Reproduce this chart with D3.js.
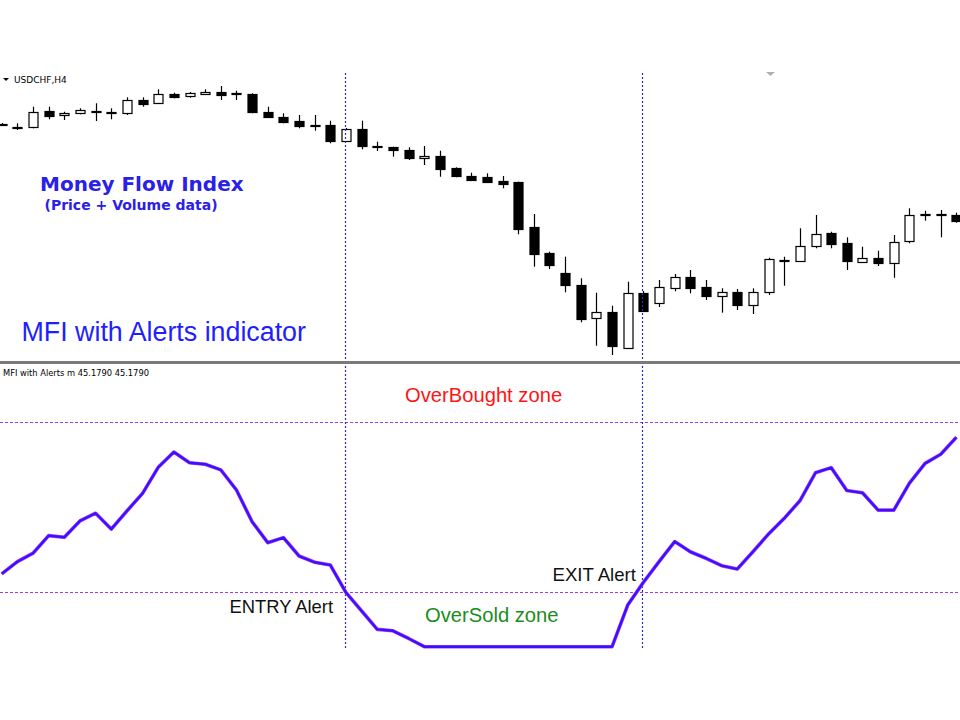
<!DOCTYPE html>
<html>
<head>
<meta charset="utf-8">
<script src="https://cdnjs.cloudflare.com/ajax/libs/d3/7.8.5/d3.min.js"></script>
<style>
  body { margin: 0; background: #fff; }
  svg { display: block; }
</style>
</head>
<body>
<svg></svg>
<script>
// USDCHF H4 candles
let opens  = [0.98460,0.98435,0.98433,0.98593,0.98550,0.98567,0.98583,0.98573,0.98567,0.98700,
              0.98673,0.98763,0.98733,0.98760,0.98783,0.98765,0.98757,0.98577,0.98527,0.98490,
              0.98450,0.98445,0.98290,0.98407,0.98237,0.98233,0.98200,0.98123,0.98143,0.98017,
              0.97940,0.97933,0.97893,0.97883,0.97427,0.97167,0.96967,0.96850,0.96517,0.96577,
              0.96227,0.96773,0.96670,0.96827,0.96933,0.96827,0.96740,0.96777,0.96643,0.96777,
              0.97100,0.97093,0.97240,0.97367,0.97267,0.97083,0.97123,0.97073,0.97290,0.97555,
              0.97555,0.97550]
let highs  = [0.98470,0.98467,0.98633,0.98633,0.98583,0.98617,0.98667,0.98617,0.98727,0.98727,
              0.98807,0.98773,0.98780,0.98807,0.98840,0.98793,0.98767,0.98633,0.98567,0.98550,
              0.98550,0.98493,0.98420,0.98493,0.98283,0.98233,0.98227,0.98240,0.98193,0.98027,
              0.97973,0.97967,0.97940,0.97883,0.97560,0.97183,0.97133,0.96917,0.96773,0.96643,
              0.96883,0.96790,0.96900,0.96960,0.97000,0.96900,0.96817,0.96810,0.96817,0.97123,
              0.97133,0.97417,0.97550,0.97383,0.97327,0.97233,0.97193,0.97350,0.97617,0.97593,
              0.97600,0.97573]
let lows   = [0.98440,0.98400,0.98417,0.98507,0.98500,0.98557,0.98490,0.98507,0.98550,0.98633,
              0.98667,0.98717,0.98723,0.98753,0.98700,0.98700,0.98567,0.98527,0.98467,0.98417,
              0.98393,0.98267,0.98280,0.98207,0.98190,0.98133,0.98100,0.98050,0.97933,0.97927,
              0.97890,0.97873,0.97817,0.97357,0.97033,0.97010,0.96777,0.96477,0.96243,0.96150,
              0.96217,0.96580,0.96630,0.96787,0.96767,0.96700,0.96573,0.96600,0.96560,0.96750,
              0.96843,0.97083,0.97217,0.97217,0.97000,0.97083,0.97040,0.96923,0.97267,0.97493,
              0.97327,0.97473]
let closes = [0.98445,0.98433,0.98583,0.98540,0.98573,0.98600,0.98585,0.98575,0.98700,0.98660,
              0.98760,0.98730,0.98767,0.98783,0.98753,0.98763,0.98573,0.98527,0.98480,0.98443,
              0.98448,0.98287,0.98407,0.98240,0.98235,0.98200,0.98117,0.98143,0.98017,0.97933,
              0.97900,0.97883,0.97867,0.97417,0.97160,0.97043,0.96843,0.96510,0.96577,0.96233,
              0.96773,0.96590,0.96830,0.96933,0.96827,0.96740,0.96777,0.96643,0.96777,0.97107,
              0.97098,0.97240,0.97360,0.97260,0.97083,0.97123,0.97073,0.97283,0.97550,0.97553,
              0.97553,0.97493]

// MFI values, one per candle
let mfi = [26.4,30.7,33.7,39.9,39.3,45.1,47.8,42.2,48.6,54.8,
           64.0,69.4,65.6,65.1,63.1,56.0,44.8,37.4,39.2,32.7,
           30.5,29.5,19.8,13.3,6.8,6.3,3.6,0.7,0.7,0.7,
           0.7,0.7,0.7,0.7,0.7,0.7,0.7,0.7,0.7,0.7,
           15.4,23.4,30.7,37.8,34.2,31.9,29.3,28.1,34.2,40.5,
           46.0,52.2,62.1,63.9,55.8,55.0,48.9,48.9,58.4,65.4,
           68.6,74.6]

let levels = [80, 20]
let alertBars = [22, 41]

let width = 960
let height = 720

let svg = d3.select('svg').attr('width', width).attr('height', height)

let xScale = d3.scaleLinear().domain([0, opens.length - 1]).range([1.7, 956.4])
let priceScale = d3.scaleLinear().domain([0.9610, 0.9900]).range([360, 70])
let mfiScale = d3.scaleLinear().domain([0, 100]).range([648.67, 365.33])

let snap = (v) => Math.round(v) + 0.5

// panel separator
svg.append('rect').attr('x', 0).attr('y', 361).attr('width', width).attr('height', 3).attr('fill', '#7a7a7a')

// level lines
svg.selectAll('.level')
   .data(levels)
   .enter()
   .append('line')
   .attr('x1', 0).attr('x2', width)
   .attr('y1', (d) => snap(mfiScale(d)))
   .attr('y2', (d) => snap(mfiScale(d)))
   .attr('stroke', '#9a3cf0')
   .attr('stroke-width', 1.1)
   .attr('stroke-dasharray', '3,2')

// candles
let candles = svg.append('g')
let ohlc = opens.map((o, i) => ({ i: i, o: o, h: highs[i], l: lows[i], c: closes[i] }))

candles.selectAll('.wick')
   .data(ohlc)
   .enter()
   .append('line')
   .attr('x1', (d) => snap(xScale(d.i)))
   .attr('x2', (d) => snap(xScale(d.i)))
   .attr('y1', (d) => priceScale(d.h))
   .attr('y2', (d) => priceScale(d.l))
   .attr('stroke', '#000')
   .attr('stroke-width', 1.2)

candles.selectAll('.body')
   .data(ohlc)
   .enter()
   .append('rect')
   .attr('x', (d) => snap(xScale(d.i)) - 4.5)
   .attr('width', 9)
   .attr('y', (d) => Math.round(priceScale(Math.max(d.o, d.c))) + 0.5)
   .attr('height', (d) => Math.max(1, Math.round(Math.abs(priceScale(d.o) - priceScale(d.c)))))
   .attr('fill', (d) => d.c > d.o ? '#fff' : '#000')
   .attr('stroke', '#000')
   .attr('stroke-width', 1.2)

// alert separators
alertBars.forEach((b) => {
    let x = snap(xScale(b)) - 1
    svg.append('line').attr('x1', x).attr('x2', x).attr('y1', 73).attr('y2', 360)
       .attr('stroke', '#2a2ab4').attr('stroke-width', 1.2).attr('stroke-dasharray', '2,2')
    svg.append('line').attr('x1', x).attr('x2', x).attr('y1', 366).attr('y2', 649)
       .attr('stroke', '#2a2ab4').attr('stroke-width', 1.2).attr('stroke-dasharray', '2,2')
})

// MFI line
let mfiLine = d3.line()
    .x((d, i) => xScale(i))
    .y((d) => mfiScale(d))

svg.append('path').datum(mfi).attr('d', mfiLine)
   .attr('fill', 'none').attr('stroke', '#b040f0').attr('stroke-width', 3.6).attr('stroke-linejoin', 'round')
svg.append('path').datum(mfi).attr('d', mfiLine)
   .attr('fill', 'none').attr('stroke', '#3812ff').attr('stroke-width', 2.4).attr('stroke-linejoin', 'round')

// small markers
svg.append('path').attr('d', 'M3,78 L9,78 L6,81 Z').attr('fill', '#000')
svg.append('path').attr('d', 'M766,72 L775,72 L770.5,76 Z').attr('fill', '#b0b0b0')

let addText = (txt, x, y, size, color, family, weight) => {
    svg.append('text')
       .attr('x', x).attr('y', y)
       .attr('font-family', family)
       .attr('font-size', size)
       .attr('font-weight', weight || 'normal')
       .attr('fill', color)
       .text(txt)
}

addText('USDCHF,H4', 14, 82.5, 9, '#000', 'DejaVu Sans')
addText('MFI with Alerts m 45.1790 45.1790', 3, 376, 8.3, '#000', 'DejaVu Sans')
addText('Money Flow Index', 40, 190.7, 20, '#2a20e6', 'DejaVu Sans', 'bold')
addText('(Price + Volume data)', 44.5, 210, 14, '#2a20e6', 'DejaVu Sans', 'bold')
addText('MFI with Alerts indicator', 21.5, 340.5, 26.8, '#1e1eff', 'Liberation Sans')
addText('OverBought zone', 405, 401.5, 20.2, '#ff1414', 'Liberation Sans')
addText('OverSold zone', 425, 621.5, 20.2, '#1c8c1c', 'Liberation Sans')
addText('ENTRY Alert', 229.5, 613.3, 18.4, '#111', 'Liberation Sans')
addText('EXIT Alert', 552.5, 580.7, 18.6, '#111', 'Liberation Sans')
</script>
</body>
</html>
